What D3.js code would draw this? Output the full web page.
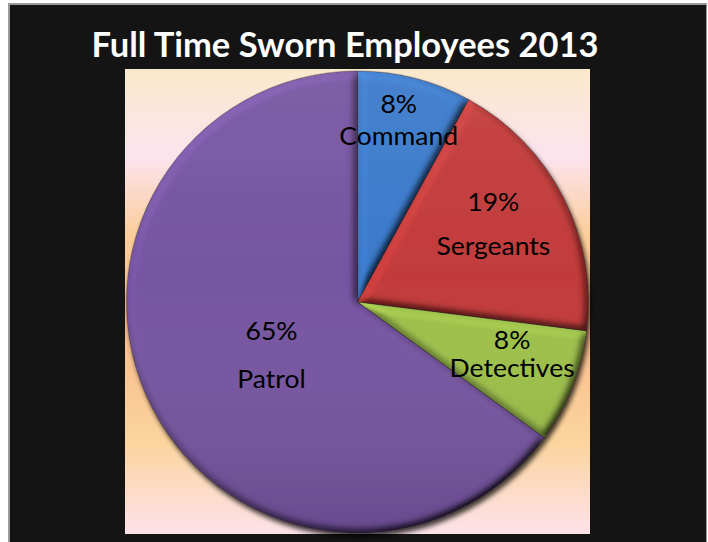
<!DOCTYPE html>
<html>
<head>
<meta charset="utf-8">
<script src="https://cdn.jsdelivr.net/npm/d3@7/dist/d3.min.js"></script>
<style>
  html, body { margin: 0; padding: 0; background: #ffffff; }
  svg { display: block; }
</style>
</head>
<body>
<svg id="chart" width="708" height="542"></svg>
<script>
// Full time sworn employees, 2013 — share of staff by assignment
const categories = ["Command", "Sergeants", "Detectives", "Patrol"];
const shares = [8, 19, 8, 65];
const sliceColors = ["#3a7acb", "#c23b3a", "#9dc04a", "#7654a1"];
const titleText = "Full Time Sworn Employees 2013";

// label placement inside each slice (fraction of radius, angular nudge in degrees, line gap)
const labelRadius = [0.77, 0.66, 0.72, 0.46];
const labelTurn = [-1, 0, 0, -9];
const labelGap = [32, 44, 28, 48];

const svg = d3.select("#chart");
const defs = svg.append("defs");

// page frame
svg.append("rect").attr("x", 8).attr("y", 3).attr("width", 699).attr("height", 540)
  .attr("fill", "#9a9a9a");
svg.append("rect").attr("x", 10).attr("y", 5).attr("width", 696).attr("height", 537)
  .attr("fill", "#141414");

// plot area with a soft sunset gradient
const plot = { x: 125, y: 69, w: 465, h: 465 };
const bg = defs.append("linearGradient").attr("id", "plotBg")
  .attr("x1", 0).attr("y1", 0).attr("x2", 0).attr("y2", 1);
[[0, "#fbe9cc"], [0.19, "#fce3ee"], [0.36, "#fbcd99"], [0.56, "#f8bb8c"],
 [0.8, "#fbd49d"], [1, "#fde2ea"]].forEach(([o, c]) =>
  bg.append("stop").attr("offset", o).attr("stop-color", c));
svg.append("rect").attr("x", plot.x).attr("y", plot.y).attr("width", plot.w).attr("height", plot.h)
  .attr("fill", "url(#plotBg)");

// fit a text element to a given width, keeping its glyph height
function squeezeTo(sel, width) {
  sel.attr("textLength", width).attr("lengthAdjust", "spacingAndGlyphs");
}

// title
const titleFont = "Lato, 'Open Sans', sans-serif";
const title = svg.append("text")
  .attr("x", 345).attr("y", 57)
  .attr("text-anchor", "middle")
  .attr("fill", "#ffffff")
  .attr("font-family", titleFont)
  .attr("font-weight", 700)
  .attr("font-size", 34.5)
  .text(titleText);
squeezeTo(title, 507);

// pie geometry
const cx = 357.5, cy = 302, R = 231;
const pie = d3.pie().sort(null).value(d => d.value);
const arcs = pie(categories.map((c, i) => ({ name: c, value: shares[i], color: sliceColors[i] })));
const arc = d3.arc().innerRadius(0).outerRadius(R);

// drop shadow beneath the pie
const shadow = defs.append("filter").attr("id", "pieShadow")
  .attr("x", "-10%").attr("y", "-10%").attr("width", "120%").attr("height", "120%");
shadow.append("feGaussianBlur").attr("in", "SourceAlpha").attr("stdDeviation", 2.5).attr("result", "b");
shadow.append("feOffset").attr("in", "b").attr("dx", 1.5).attr("dy", 3.5).attr("result", "o");
shadow.append("feComponentTransfer").attr("in", "o").attr("result", "s")
  .append("feFuncA").attr("type", "linear").attr("slope", 0.75);
const sm = shadow.append("feMerge");
sm.append("feMergeNode").attr("in", "s");
sm.append("feMergeNode").attr("in", "SourceGraphic");

// bevel: diffuse light from the upper left, applied per slice
const bevel = defs.append("filter").attr("id", "bevel")
  .attr("x", "-5%").attr("y", "-5%").attr("width", "110%").attr("height", "110%");
bevel.append("feGaussianBlur").attr("in", "SourceAlpha").attr("stdDeviation", 4).attr("result", "blur");
bevel.append("feDiffuseLighting").attr("in", "blur").attr("surfaceScale", 7)
  .attr("diffuseConstant", 1).attr("lighting-color", "#ffffff").attr("result", "light")
  .append("feDistantLight").attr("azimuth", 235).attr("elevation", 55);
bevel.append("feComposite").attr("in", "SourceGraphic").attr("in2", "light")
  .attr("operator", "arithmetic").attr("k1", 1.22).attr("k2", 0).attr("k3", 0).attr("k4", 0)
  .attr("result", "lit");
bevel.append("feComposite").attr("in", "lit").attr("in2", "SourceAlpha").attr("operator", "in");

// vertical shading across the whole disc
const shade = defs.append("linearGradient").attr("id", "shade")
  .attr("gradientUnits", "userSpaceOnUse")
  .attr("x1", 0).attr("y1", -R).attr("x2", 0).attr("y2", R);
shade.append("stop").attr("offset", 0).attr("stop-color", "#ffffff").attr("stop-opacity", 0.06);
shade.append("stop").attr("offset", 0.45).attr("stop-color", "#ffffff").attr("stop-opacity", 0);
shade.append("stop").attr("offset", 1).attr("stop-color", "#000000").attr("stop-opacity", 0.12);

const g = svg.append("g").attr("transform", `translate(${cx},${cy})`);
const disc = g.append("g").attr("filter", "url(#pieShadow)");

const slices = disc.selectAll("g.slice").data(arcs).join("g").attr("class", "slice");
slices.append("path")
  .attr("d", arc)
  .attr("fill", d => d.data.color)
  .attr("filter", "url(#bevel)");
slices.append("path")
  .attr("d", arc)
  .attr("fill", "url(#shade)")
  .attr("stroke", "rgba(40,30,40,0.5)")
  .attr("stroke-width", 0.8);

// labels: percentage over category name
const labelFont = "Lato, 'Open Sans', sans-serif";
const labelSize = 24.5;
const probe = svg.append("text").attr("font-family", labelFont).attr("font-size", labelSize).text("Detectives");
const squeeze = 125 / probe.node().getComputedTextLength();
probe.remove();

arcs.forEach((d, i) => {
  const mid = (d.startAngle + d.endAngle) / 2 + labelTurn[i] * Math.PI / 180;
  const r = R * labelRadius[i];
  const x = r * Math.sin(mid), y = -r * Math.cos(mid);
  [[d.data.value + "%", y - labelGap[i] / 2], [d.data.name, y + labelGap[i] / 2]].forEach(([txt, ty]) => {
    const t = g.append("text")
      .attr("x", x).attr("y", ty)
      .attr("text-anchor", "middle")
      .attr("font-family", labelFont)
      .attr("font-size", labelSize)
      .attr("fill", "#000000")
      .text(txt);
    squeezeTo(t, t.node().getComputedTextLength() * squeeze);
  });
});
</script>
</body>
</html>
